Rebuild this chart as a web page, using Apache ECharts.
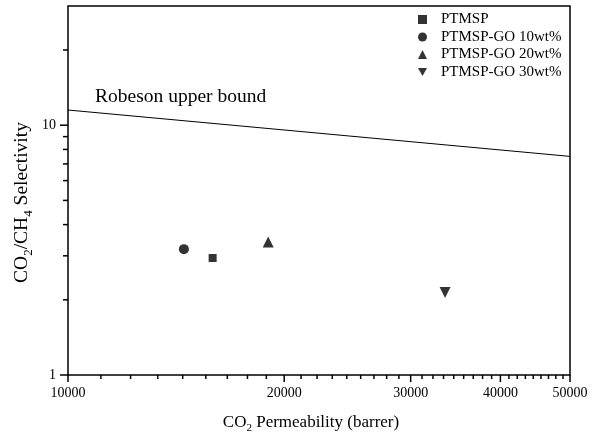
<!DOCTYPE html>
<html><head><meta charset="utf-8">
<script src="https://cdn.jsdelivr.net/npm/echarts@6/dist/echarts.min.js"></script>
<style>html,body{margin:0;padding:0;background:#fff}#c{width:595px;height:436px}</style>
</head><body><div id="c"></div>
<script>
// ---- data ----
const seriesNames = ['PTMSP', 'PTMSP-GO 10wt%', 'PTMSP-GO 20wt%', 'PTMSP-GO 30wt%'];
const permeability = [15900, 14500, 19000, 33500];   // CO2 permeability (barrer)
const selectivity = [2.94, 3.19, 3.41, 2.14];         // CO2/CH4 selectivity
const robesonX = [10000, 50000];
const robesonY = [11.5, 7.5];
const xTickValues = [10000, 20000, 30000, 40000, 50000];
const xTickLabels = ['10000', '20000', '30000', '40000', '50000'];
const xMinorPerInterval = 8;
const yTickValues = [1, 10];
const yTickLabels = ['1', '10'];
const yMinorTicks = [2, 3, 4, 5, 6, 7, 8, 9, 20];
const xMin = 10000, xMax = 50000, yMin = 1, yMax = 30;

const FONT = '"Liberation Serif", "Times New Roman", serif';

// tick tables built from the arrays above
const xTickData = [];
xTickValues.forEach((v, i) => xTickData.push([v, yMin, 1, i]));
for (let i = 0; i < xTickValues.length - 1; i++) {
  const a = xTickValues[i], b = xTickValues[i + 1];
  const step = (b - a) / (xMinorPerInterval + 1);
  for (let k = 1; k <= xMinorPerInterval; k++) xTickData.push([a + step * k, yMin, 0, -1]);
}
const yTickData = [];
yTickValues.forEach((v, i) => yTickData.push([xMin, v, 1, i]));
yMinorTicks.forEach(v => yTickData.push([xMin, v, 0, -1]));

function xTickItem(params, api) {
  const p = api.coord([api.value(0), api.value(1)]);
  const major = api.value(2) === 1;
  const len = major ? 7 : 4;
  const children = [{ type: 'line', shape: { x1: p[0], y1: p[1], x2: p[0], y2: p[1] + len },
    style: { stroke: '#000', lineWidth: 1.5 } }];
  if (major) children.push({ type: 'text', style: { text: xTickLabels[api.value(3)], x: p[0], y: p[1] + 18,
    align: 'center', verticalAlign: 'middle', fontSize: 14, fontFamily: FONT, fill: '#000' } });
  return { type: 'group', children };
}
function yTickItem(params, api) {
  const p = api.coord([api.value(0), api.value(1)]);
  const major = api.value(2) === 1;
  const len = major ? 8 : 5;
  const children = [{ type: 'line', shape: { x1: p[0] - len, y1: p[1], x2: p[0], y2: p[1] },
    style: { stroke: '#000', lineWidth: 1.5 } }];
  if (major) children.push({ type: 'text', style: { text: yTickLabels[api.value(3)], x: p[0] - 12, y: p[1],
    align: 'right', verticalAlign: 'middle', fontSize: 14, fontFamily: FONT, fill: '#000' } });
  return { type: 'group', children };
}

const symbols = ['rect', 'circle', 'triangle', 'path://M0,0L10,0L5,9Z'];
const sizes = [8, 10, 11, 11];

const series = seriesNames.map((n, i) => ({
  name: n, type: 'scatter', symbol: symbols[i], symbolSize: sizes[i],
  itemStyle: { color: '#000' }, data: [[permeability[i], selectivity[i]]], z: 5
}));
series.push({
  name: 'Robeson upper bound', type: 'line', data: robesonX.map((x, i) => [x, robesonY[i]]),
  symbol: 'none', lineStyle: { color: '#000', width: 1 }, z: 4, silent: true
});
series.push({ type: 'custom', coordinateSystem: 'cartesian2d', renderItem: xTickItem, data: xTickData,
  encode: { x: 0, y: 1 }, clip: false, silent: true, z: 10 });
series.push({ type: 'custom', coordinateSystem: 'cartesian2d', renderItem: yTickItem, data: yTickData,
  encode: { x: 0, y: 1 }, clip: false, silent: true, z: 10 });

const chart = echarts.init(document.getElementById('c'), null, { renderer: 'canvas' });
chart.setOption({
  animation: false,
  backgroundColor: '#fff',
  grid: { left: 68, right: 25, top: 6, bottom: 61, show: true, borderColor: '#000', borderWidth: 1.5,
    backgroundColor: 'transparent', containLabel: false, outerBoundsMode: 'none' },
  legend: {
    data: seriesNames, orient: 'vertical', left: 413, top: 7, itemGap: 2.5, itemWidth: 9, itemHeight: 9,
    textStyle: { fontFamily: FONT, fontSize: 15, color: '#000', padding: [0, 0, 0, 9] }, selectedMode: false
  },
  xAxis: {
    type: 'log', logBase: 10, min: xMin, max: xMax,
    axisLine: { show: false }, axisTick: { show: false }, axisLabel: { show: false }, splitLine: { show: false },
    minorTick: { show: false },
    name: 'CO{s|2} Permeability (barrer)', nameLocation: 'middle', nameGap: 37,
    nameTextStyle: { fontFamily: FONT, fontSize: 17, color: '#000', lineHeight: 22, padding: [0, 16, 0, 0],
      rich: { s: { fontFamily: FONT, fontSize: 11, color: '#000', verticalAlign: 'bottom', lineHeight: 12 } } }
  },
  yAxis: {
    type: 'log', logBase: 10, min: yMin, max: yMax,
    axisLine: { show: false }, axisTick: { show: false }, axisLabel: { show: false }, splitLine: { show: false },
    minorTick: { show: false },
    name: 'CO{s|2}/CH{s|4} Selectivity', nameLocation: 'middle', nameGap: 33, nameRotate: 90,
    nameTextStyle: { fontFamily: FONT, fontSize: 19.5, color: '#000', lineHeight: 26, padding: [0, 24, 0, 0],
      rich: { s: { fontFamily: FONT, fontSize: 13, color: '#000', verticalAlign: 'bottom', lineHeight: 14 } } }
  },
  graphic: [{
    type: 'text', left: 95, top: 87, silent: true,
    style: { text: 'Robeson upper bound', fontFamily: FONT, fontSize: 19.5, fill: '#000' }
  }],
  series
});
</script>
</body></html>
